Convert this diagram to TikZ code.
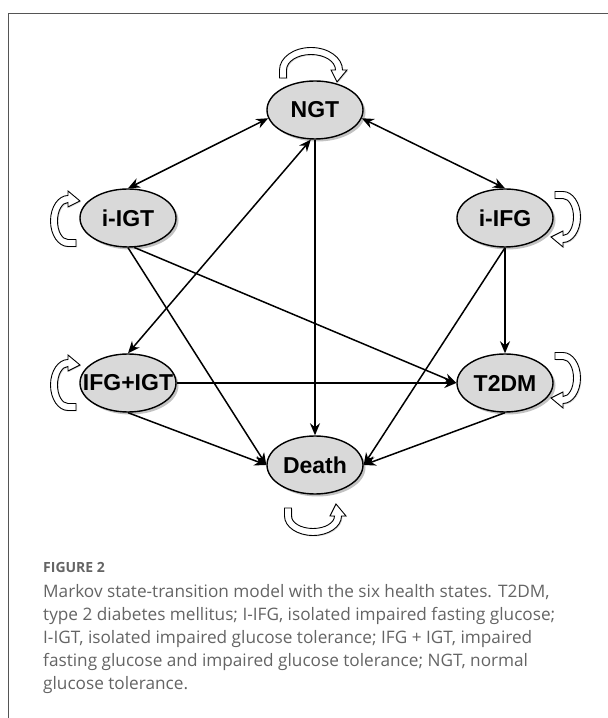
\documentclass[tikz,border=0pt]{standalone}
\usepackage{fontspec}
\setmainfont{Liberation Sans}
\newfontfamily\capfont{Open Sans}
\usepackage{tikz}
\usetikzlibrary{shapes,arrows.meta,positioning,calc,shadows}
\usepackage{xcolor}
\definecolor{stategray}{RGB}{217,217,217}
\definecolor{capgray}{RGB}{100,100,100}
\definecolor{framegray}{RGB}{85,85,85}

% hollow curved arrow for staying in a state
\newcommand{\stayloop}[4]{%
  \begin{scope}[shift={#1},#2]
    \pgfmathsetmacro\lpox{#3+3.5}\pgfmathsetmacro\lpoy{#4+3.5}
    \pgfmathsetmacro\lpix{#3-3.5}\pgfmathsetmacro\lpiy{#4-3.5}
    \draw[loopband] (-\lpox,-8) -- (-\lpox,0)
      arc[start angle=180,end angle=0,x radius=\lpox,y radius=\lpoy]
      -- (\lpox+4.5,0) -- (#3-2,-12) -- (\lpix-4.5,0) -- (\lpix,0)
      arc[start angle=0,end angle=180,x radius=\lpix,y radius=\lpiy]
      -- (-\lpix,-8) -- cycle;
  \end{scope}}

\begin{document}
\begin{tikzpicture}[x=1pt,y=1pt,
    state/.style={ellipse,draw=black,line width=1.4pt,fill=stategray,
      minimum width=96pt,minimum height=58pt,inner sep=0pt,
      font=\bfseries\fontsize{23}{26}\selectfont,
      drop shadow={shadow xshift=2.5pt,shadow yshift=-2.5pt,fill=black!40,opacity=0.6}},
    trans/.style={line width=1.5pt,-{Stealth[length=12pt,width=10pt]}},
    both/.style={line width=1.5pt,{Stealth[length=12pt,width=10pt]}-{Stealth[length=12pt,width=10pt]}},
    loopband/.style={draw=black,line width=0.9pt,fill=white,
      drop shadow={shadow xshift=1pt,shadow yshift=-1pt,fill=black!30,opacity=0.5}},
    captext/.style={font=\capfont\fontsize{17.2}{23}\selectfont,text=capgray,align=left,inner sep=0pt}]
    \useasboundingbox (0,0) rectangle (608,718);

    % frame
    \draw[framegray,line width=0.8pt] (608,705) -- (8,705) -- (8,0);

    % states
    \node[state] (ngt) at (315,608) {NGT};
    \node[state] (iigt) at (128,500) {i-IGT};
    \node[state] (iifg) at (505,500) {i-IFG};
    \node[state] (combo) at (128,335) {\makebox[0pt]{IFG+IGT}};
    \node[state] (t2dm) at (505,335) {T2DM};
    \node[state] (death) at (315,253) {Death};

    % staying in the same state
    \stayloop{(311,648)}{}{28}{19}
    \stayloop{(68,497)}{rotate=90}{22}{14}
    \stayloop{(68,333)}{rotate=90}{22}{14}
    \stayloop{(563,501)}{rotate=-90}{22}{14}
    \stayloop{(563,340)}{rotate=-90}{22}{14}
    \stayloop{(313,202)}{yscale=-1}{25}{16}

    % transitions
    \draw[both] (ngt.190) -- (iigt.north);
    \draw[both] (ngt.-10) -- (iifg.north);
    \draw[trans] (ngt.south) -- (death.north);
    \draw[both] (ngt.262) -- (combo.north);
    \draw[trans] (iigt.south) -- (death.west);
    \draw[trans] (iigt.-78) -- (t2dm.west);
    \draw[trans] (iifg.south) -- (t2dm.north);
    \draw[trans] (iifg.south) -- (death.east);
    \draw[trans] (combo.east) -- (t2dm.west);
    \draw[trans] (combo.south) -- (death.west);
    \draw[trans] (t2dm.south) -- (death.east);

    % caption
    \node[captext,font=\capfont\bfseries\fontsize{14}{16}\selectfont,anchor=base west] (fighead) at (43,145) {FIGURE 2};
    \node[captext,anchor=base west] (caption) at (43,28) {Markov state-transition model with the six health states. T2DM,\\
      type 2 diabetes mellitus; I-IFG, isolated impaired fasting glucose;\\
      I-IGT, isolated impaired glucose tolerance; IFG + IGT, impaired\\
      fasting glucose and impaired glucose tolerance; NGT, normal\\
      glucose tolerance.};
\end{tikzpicture}
\end{document}
